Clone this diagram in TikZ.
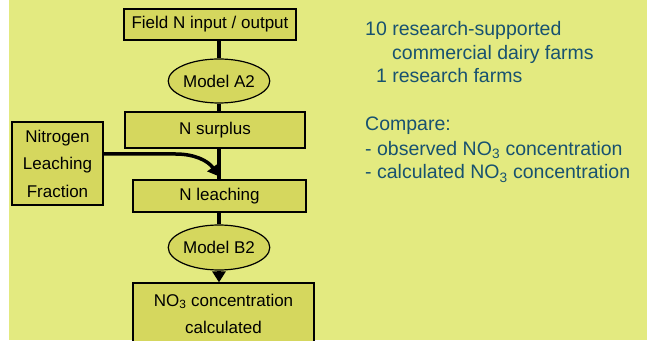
\documentclass[tikz,border=0pt]{standalone}
\usepackage{fontspec}
\setmainfont{Liberation Sans}
\usetikzlibrary{shapes.geometric,arrows.meta}
\definecolor{slidebg}{RGB}{227,234,128}
\definecolor{boxfill}{RGB}{213,215,94}
\definecolor{noteblue}{RGB}{24,82,112}

\begin{document}
\begin{tikzpicture}[
    x=1pt, y=1pt,
    stepbox/.style={rectangle, draw, line width=1.2pt, fill=boxfill, align=center, inner sep=0pt, font=\fontsize{17}{27.5}\selectfont},
    model/.style={ellipse, draw, line width=1.2pt, fill=boxfill, inner sep=0pt, minimum width=87pt, minimum height=44pt, font=\fontsize{17}{20}\selectfont},
    flow/.style={line width=3.5pt},
    flowarrow/.style={line width=3.5pt, -{Triangle[length=11pt,width=13pt]}},
    note/.style={anchor=base west, inner sep=0pt, text=noteblue, font=\fontsize{19.5}{23}\selectfont}
]

% Background
\useasboundingbox (0,0) rectangle (647,340);
\fill[slidebg] (9,0) rectangle (647,340);

% Flow chart
\node[stepbox, minimum width=172pt, minimum height=31pt] (field) at (210,315.5) {Field N input / output};
\node[model] (modelA) at (219,259) {Model A2};
\node[stepbox, minimum width=180pt, minimum height=36pt] (surplus) at (215,210) {N surplus};
\node[stepbox, minimum width=91pt, minimum height=83pt] (fraction) at (57.5,176.5) {Nitrogen\\Leaching\\Fraction};
\node[stepbox, minimum width=173pt, minimum height=32pt] (leaching) at (219.5,144) {N leaching};
\node[model, minimum height=45pt] (modelB) at (219,92.5) {Model B2};
\node[stepbox, minimum width=181pt, minimum height=62pt] (no3) at (223.5,26) {NO\textsubscript{3} concentration\\calculated};

% Connectors
\draw[flow] (field.south -| modelA) -- (modelA.north);
\draw[flow] (modelA.south) -- (surplus.north -| modelA);
\draw[flow] (surplus.south -| modelA) -- (leaching.north -| modelA);
\draw[flowarrow] ([yshift=9.5pt]fraction.east) -- ++(72,0) to[out=0, in=125] ([yshift=3pt]leaching.north -| modelA);
\draw[flow] (leaching.south -| modelA) -- (modelB.north);
\draw[flowarrow] (modelB.south) -- (no3.north -| modelB);

% Farms and comparison
\node[note] (farms1) at (365,304) {10 research-supported};
\node[note] (farms2) at (392,280.5) {commercial dairy farms};
\node[note] (farms3) at (365,257) {\hphantom{1}1 research farms};
\node[note] (compare) at (365,209) {Compare:};
\node[note] (observed) at (365,184.5) {- observed NO\textsubscript{3} concentration};
\node[note] (calculated) at (365,161) {- calculated NO\textsubscript{3} concentration};

\end{tikzpicture}
\end{document}
